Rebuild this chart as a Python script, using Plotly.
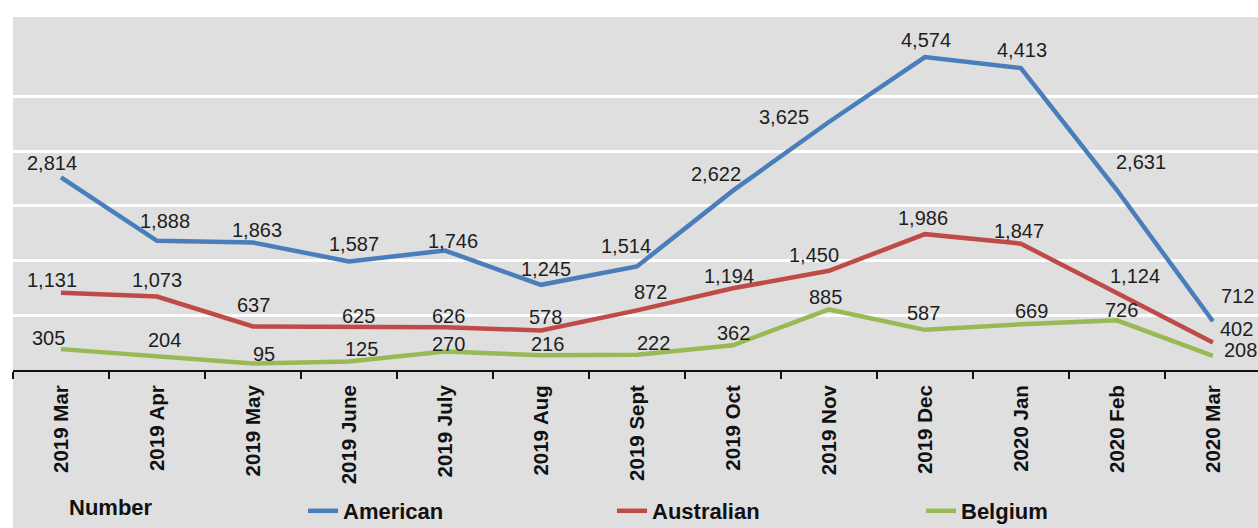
import plotly.graph_objects as go

# Monthly counts by group
months = ["2019 Mar", "2019 Apr", "2019 May", "2019 June", "2019 July", "2019 Aug",
          "2019 Sept", "2019 Oct", "2019 Nov", "2019 Dec", "2020 Jan", "2020 Feb", "2020 Mar"]
american = [2814, 1888, 1863, 1587, 1746, 1245, 1514, 2622, 3625, 4574, 4413, 2631, 712]
australian = [1131, 1073, 637, 625, 626, 578, 872, 1194, 1450, 1986, 1847, 1124, 402]
belgium = [305, 204, 95, 125, 270, 216, 222, 362, 885, 587, 669, 726, 208]

# Pixel offsets of each value label from its point (x right, y up)
american_off = [(-9, 14), (8, 20), (4, 13), (5, 17), (8, 10), (5, 16), (-11, 20),
                (-17, 17), (-45, 5), (1, 17), (1, 18), (24, 28), (25, 25)]
australian_off = [(-9, 13), (0, 17), (1, 21), (10, 11), (4, 11), (5, 13), (14, 18),
                  (-4, 12), (-15, 16), (-2, 16), (-2, 13), (18, 17), (24, 14)]
belgium_off = [(-13, 11), (8, 16), (11, 10), (13, 12), (4, 8), (7, 11), (17, 12),
               (1, 12), (-3, 12), (-1, 17), (11, 13), (5, 10), (28, 6)]

series = [
    ("American", american, "#4A7EBB", american_off),
    ("Australian", australian, "#BE4B48", australian_off),
    ("Belgium", belgium, "#98B954", belgium_off),
]

BG = "#dfdfdf"
FONT = "Liberation Sans, Arial, sans-serif"
PLOT_W = 1258 - 13
PLOT_H = 528 - 17 - 158

fig = go.Figure()
annotations = []
for name, vals, color, offs in series:
    fig.add_trace(go.Scatter(
        x=months, y=vals, name=name, mode="lines",
        line=dict(color=color, width=4.5),
    ))
    for m, v, (dx, dy) in zip(months, vals, offs):
        annotations.append(dict(
            x=m, y=v, xref="x", yref="y", text=f"{v:,}", showarrow=False,
            xshift=dx, yshift=dy,
            font=dict(family=FONT, size=20, color="#1e1e1e"),
        ))

# Legend heading
annotations.append(dict(
    x=(67 - 13) / PLOT_W, y=-(507 - 370) / PLOT_H, xref="paper", yref="paper",
    text="<b>Number</b>", showarrow=False, xanchor="left", yanchor="middle",
    font=dict(family=FONT, size=22, color="#111111"),
))

fig.update_layout(
    width=1258, height=528,
    margin=dict(l=13, r=0, t=17, b=158, autoexpand=False),
    paper_bgcolor="white",
    plot_bgcolor=BG,
    showlegend=True,
    legend=dict(
        orientation="h", x=(303 - 13) / PLOT_W, xanchor="left",
        y=-(511 - 370) / PLOT_H, yanchor="middle",
        bgcolor="rgba(0,0,0,0)", entrywidth=264, entrywidthmode="pixels",
        font=dict(family=FONT, size=22, color="#111111", weight="bold"),
    ),
    annotations=annotations,
    shapes=[dict(
        type="rect", xref="paper", yref="paper", x0=0, x1=1,
        y0=-158 / PLOT_H, y1=0, fillcolor=BG, line=dict(width=0), layer="below",
    )],
    xaxis=dict(
        type="category", range=[-0.5, 12.47], tickson="boundaries",
        showline=True, linecolor="#111111", linewidth=2,
        ticks="outside", ticklen=7, tickwidth=2, tickcolor="#111111",
        ticklabelstandoff=5,
        tickangle=-90, showgrid=False, automargin=False,
        tickfont=dict(family=FONT, size=20.5, color="#111111", weight="bold"),
    ),
    yaxis=dict(
        range=[0, 5160], tickvals=[800, 1600, 2400, 3200, 4000],
        showticklabels=False, showgrid=True, gridcolor="white", gridwidth=2.5,
        zeroline=False, showline=False, ticks="", automargin=False,
    ),
)

fig.write_html("out.html")
